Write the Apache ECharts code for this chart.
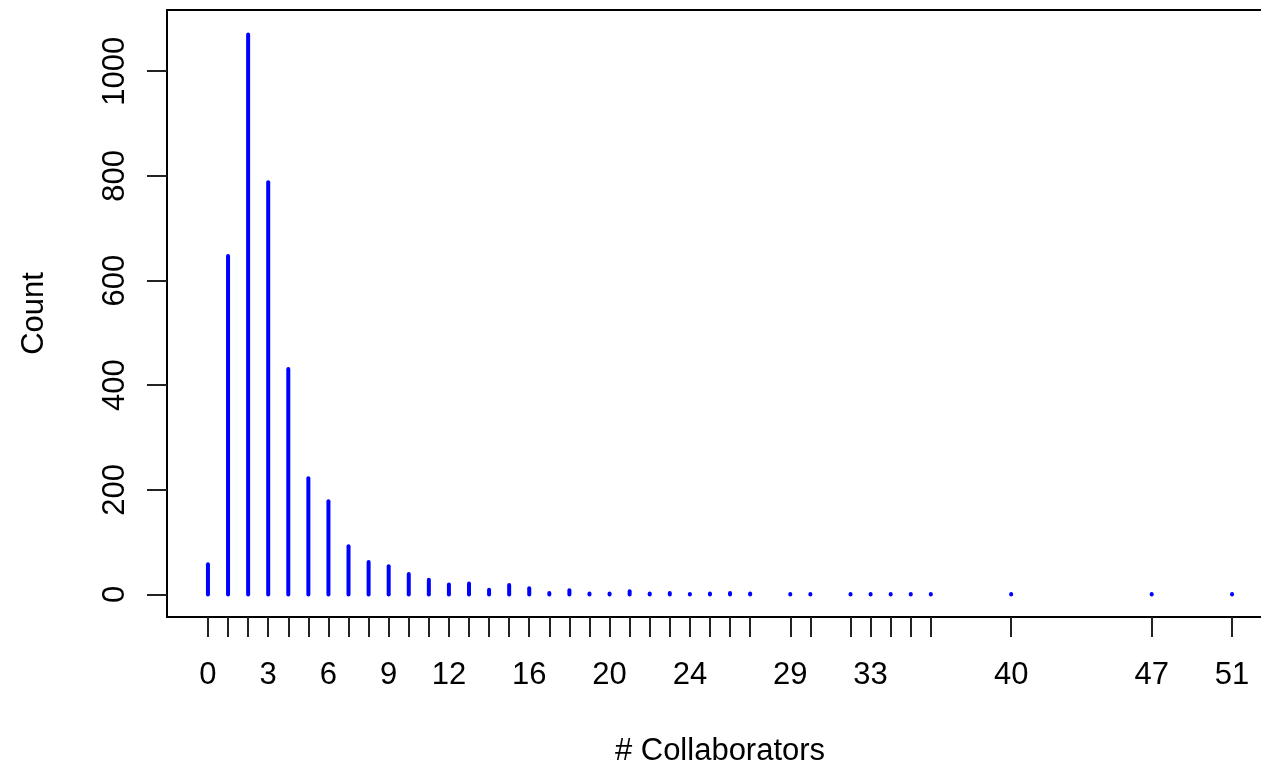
<!DOCTYPE html>
<html>
<head>
<meta charset="utf-8">
<script src="https://cdn.jsdelivr.net/npm/echarts@6/dist/echarts.min.js"></script>
<style>
  html, body { margin: 0; padding: 0; background: #fff; }
  #chart { width: 1261px; height: 767px; }
</style>
</head>
<body>
<div id="chart"></div>
<script>
    // number of collaborators seen, and how many times each one occurs
    var collaborators = [0, 1, 2, 3, 4, 5, 6, 7, 8, 9, 10, 11, 12, 13, 14, 15, 16, 17, 18, 19,
        20, 21, 22, 23, 24, 25, 26, 27, 29, 30, 32, 33, 34, 35, 36, 40, 47, 51];
    var counts = [58, 647, 1070, 788, 431, 222, 178, 92, 62, 54, 39, 28, 19, 21, 9, 18, 12, 3, 8, 2,
        2, 6, 2, 3, 1, 2, 3, 2, 1, 1, 1, 1, 1, 1, 1, 1, 1, 1];
    var xLabels = [0, 3, 6, 9, 12, 16, 20, 24, 29, 33, 40, 47, 51];
    var yTicks = [0, 200, 400, 600, 800, 1000];

    var chartData = [];
    collaborators.forEach(function (c, i) {
        chartData.push([c, counts[i]]);
    });

    var font = '"Liberation Sans", Arial, Helvetica, sans-serif';

    var myChart = echarts.init(document.getElementById('chart'));

    var option = {
        animation: false,
        grid: {
            left: 167,
            top: 10,
            width: 1106,
            height: 607,
            outerBoundsMode: 'none',
            containLabel: false,
            show: true,
            borderColor: '#000',
            borderWidth: 2,
            backgroundColor: 'transparent'
        },
        xAxis: {
            type: 'value',
            min: -2.04,
            max: 53.04,
            name: '# Collaborators',
            nameLocation: 'middle',
            nameGap: 119,
            nameTextStyle: { fontFamily: font, fontSize: 31, color: '#000' },
            axisLine: { show: false, onZero: false },
            splitLine: { show: false },
            axisTick: {
                show: true,
                inside: false,
                length: 20,
                customValues: collaborators,
                lineStyle: { color: '#222', width: 2 }
            },
            axisLabel: {
                customValues: xLabels,
                margin: 43,
                fontFamily: font,
                fontSize: 31,
                color: '#000',
                formatter: function (v) { return String(v); }
            }
        },
        yAxis: {
            type: 'value',
            min: -43,
            max: 1117,
            name: 'Count',
            nameLocation: 'middle',
            nameGap: 117,
            nameTextStyle: { fontFamily: font, fontSize: 31, color: '#000' },
            axisLine: { show: false, onZero: false },
            splitLine: { show: false },
            axisTick: {
                show: true,
                inside: false,
                length: 20,
                customValues: yTicks,
                lineStyle: { color: '#222', width: 2 }
            },
            axisLabel: {
                customValues: yTicks,
                rotate: 90,
                margin: 36,
                fontFamily: font,
                fontSize: 31,
                color: '#000',
                formatter: function (v) { return String(v); }
            }
        },
        series: [
            {
                name: 'count',
                type: 'custom',
                clip: false,
                data: chartData,
                encode: { x: 0, y: 1 },
                renderItem: function (params, api) {
                    var base = api.coord([api.value(0), 0]);
                    var top = api.coord([api.value(0), api.value(1)]);
                    return {
                        type: 'line',
                        shape: { x1: base[0], y1: base[1], x2: top[0], y2: top[1] },
                        style: { stroke: '#0000ff', lineWidth: 4, lineCap: 'round' }
                    };
                }
            }
        ]
    };

    myChart.setOption(option, true);
</script>
</body>
</html>
